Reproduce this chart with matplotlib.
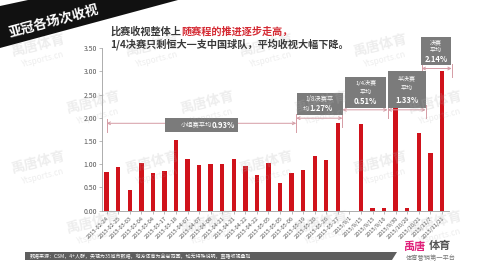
import numpy as np
import matplotlib
matplotlib.use('Agg')
import matplotlib.pyplot as plt
from matplotlib.patches import Rectangle, Polygon

plt.rcParams['font.family'] = ['Noto Sans CJK SC', 'DejaVu Sans']

dates = ['2015-02-24', '2015-02-25', '2015-03-03', '2015-03-04', '2015-03-04',
         '2015-03-17', '2015-03-18', '2015-04-07', '2015-04-07', '2015-04-08',
         '2015-04-21', '2015-04-21', '2015-04-22', '2015-04-22', '2015-05-05',
         '2015-05-05', '2015-05-06', '2015-05-19', '2015-05-20', '2015-05-26',
         '2015-05-27', '2015/9/1', '2015/9/15', '2015/9/15', '2015/9/16',
         '2015/9/30', '2015/10/20', '2015/10/21', '2015/11/7', '2015/11/21']
ratings = [0.84, 0.94, 0.44, 1.02, 0.81, 0.85, 1.52, 1.12, 0.98, 1.00,
           1.00, 1.11, 0.97, 0.77, 1.03, 0.60, 0.80,
           0.88, 1.17, 1.10, 1.88,
           0.00, 1.86, 0.06, 0.05,
           2.20, 0.06, 1.68,
           1.25, 3.01]
yticks = [0, 0.5, 1.0, 1.5, 2.0, 2.5, 3.0, 3.5]

# stage labels / averages
stage_lines = [['小组赛平均'], ['1/8决赛平', '均'], ['1/4决赛', '平均'],
               ['半决赛', '平均'], ['决赛', '平均']]
stage_avg = ['0.93%', '1.27%', '0.51%', '1.33%', '2.14%']

RED = '#d0121b'
GREY_BOX = '#7b7b7b'
ARROW = '#d59ca5'

fig = plt.figure(figsize=(4.8, 2.7), dpi=100)
fig.patch.set_facecolor('white')

def px(x, y):
    return x / 480, 1 - y / 270

ax = fig.add_axes([0.2125, 0.22, 0.7225, 0.602])
x = np.arange(len(dates))
ax.bar(x, ratings, width=0.38, color=RED, zorder=3)
ax.set_xlim(-0.4, 29.6)
ax.set_ylim(0, 3.5)
ax.set_yticks(yticks)
ax.set_yticklabels(['%.2f' % v for v in yticks], fontsize=5, color='#555555')
ax.set_xticks(x)
ax.set_xticklabels(dates, rotation=45, ha='right', rotation_mode='anchor',
                   fontsize=4.1, color='#555555')
for s in ['top', 'right']:
    ax.spines[s].set_visible(False)
for s in ['left', 'bottom']:
    ax.spines[s].set_color('#a0a0a0')
    ax.spines[s].set_linewidth(0.6)
ax.tick_params(axis='both', length=2, width=0.5, color='#a0a0a0', pad=1.5)
ax.set_facecolor('none')

# stage brackets and boxes (layout)
br_left = [0.0, 16.4, 20.4, 24.3, 27.25]
br_right = [16.4, 20.4, 24.3, 27.6, 29.85]
line_y = [1.88, 1.99, 2.17, 2.17, 3.06]
box_cx = [8.2, 18.43, 22.4, 25.95, 28.5]
box_cy = [1.84, 2.30, 2.54, 2.61, 3.44]
box_w = [6.3, 4.0, 3.6, 3.3, 2.6]
box_h = [0.30, 0.47, 0.67, 0.80, 0.61]

for i in range(len(stage_avg)):
    l, r, ly = br_left[i], br_right[i], line_y[i]
    ax.annotate('', xy=(l, ly), xytext=(r, ly), annotation_clip=False,
                arrowprops=dict(arrowstyle='<->', color=ARROW, lw=0.7,
                                shrinkA=0, shrinkB=0, mutation_scale=5), zorder=4)
    for xx in (l, r):
        ax.plot([xx, xx], [ly - 0.18, ly + 0.1], color=ARROW, lw=0.7,
                clip_on=False, zorder=4)
    ax.add_patch(Rectangle((box_cx[i] - box_w[i] / 2, box_cy[i] - box_h[i] / 2),
                           box_w[i], box_h[i], facecolor=GREY_BOX, edgecolor='none',
                           clip_on=False, zorder=5))
    lines = stage_lines[i]
    cx, cy, h = box_cx[i], box_cy[i], box_h[i]
    if i == 0:
        ax.text(cx + 0.9, cy, lines[0], ha='right', va='center', color='white',
                fontsize=4.5, zorder=6)
        ax.text(cx + 0.9, cy, stage_avg[i], ha='left', va='center', color='white',
                fontsize=5.5, fontweight='bold', zorder=6)
    elif i == 1:
        ax.text(cx, cy + h * 0.22, lines[0], ha='center', va='center', color='white',
                fontsize=4.5, zorder=6)
        ax.text(cx - 0.9, cy - h * 0.22, lines[1], ha='right', va='center',
                color='white', fontsize=4.5, zorder=6)
        ax.text(cx - 0.9, cy - h * 0.22, stage_avg[i], ha='left', va='center',
                color='white', fontsize=5.5, fontweight='bold', zorder=6)
    else:
        ax.text(cx, cy + h * 0.30, lines[0], ha='center', va='center', color='white',
                fontsize=4.3, zorder=6, clip_on=False)
        ax.text(cx, cy + h * 0.02, lines[1], ha='center', va='center', color='white',
                fontsize=4.3, zorder=6, clip_on=False)
        ax.text(cx, cy - h * 0.29, stage_avg[i], ha='center', va='center',
                color='white', fontsize=5.5, fontweight='bold', zorder=6,
                clip_on=False)

# watermarks
for row, yy in enumerate([45, 102, 162, 222]):
    off = 0 if row % 2 == 0 else 55
    for xx in [38, 152, 266, 380]:
        wx, wy = px(xx + off, yy)
        fig.text(wx, wy, '禹唐体育', rotation=14, fontsize=10, fontweight='bold',
                 color='#b0b0b0', alpha=0.22, ha='center', va='center', zorder=10)
        wx2, wy2 = px(xx + off + 5, yy + 14)
        fig.text(wx2, wy2, 'Ytsports.cn', rotation=14, fontsize=6,
                 color='#b0b0b0', alpha=0.22, ha='center', va='center', zorder=10)

# title banner
banner = Polygon([px(0, 6), px(0, 48), px(178, 0), px(28, 0)], closed=True,
                 transform=fig.transFigure, facecolor='#111111', edgecolor='none',
                 zorder=11)
fig.patches.append(banner)
tx, ty = px(54, 22)
fig.text(tx, ty, '亚冠各场次收视', rotation=15, fontsize=9.5, fontweight='bold',
         color='white', ha='center', va='center', zorder=12)

# subtitle
sx, sy = px(110, 32)
t1 = fig.text(sx, sy, '比赛收视整体上', fontsize=7.3, fontweight='bold',
              color='#3a3a3a', ha='left', va='center', zorder=12)
fig.canvas.draw()
bb = t1.get_window_extent()
fig.text(bb.x1 / fig.bbox.width, sy, '随赛程的推进逐步走高，', fontsize=7.3,
         fontweight='bold', color='#d42a33', ha='left', va='center', zorder=12)
sx2, sy2 = px(110, 44)
fig.text(sx2, sy2, '1/4决赛只剩恒大一支中国球队，平均收视大幅下降。', fontsize=7.3,
         fontweight='bold', color='#3a3a3a', ha='left', va='center', zorder=12)

# footer bar
footer = Polygon([px(25, 252), px(25, 260), px(392, 260), px(397, 252)], closed=True,
                 transform=fig.transFigure, facecolor='#5e5e5e', edgecolor='none',
                 zorder=11)
fig.patches.append(footer)
fx, fy = px(30, 256)
fig.text(fx, fy, '数据来源：CSM，4+人群，央视为35城市数据，地方体育为全省范围，如无特殊说明，直播收视叠加',
         fontsize=3.6, color='white', ha='left', va='center', zorder=12)

# logo
lx, ly = px(404, 246)
fig.text(lx, ly, '禹唐', fontsize=8, fontweight='bold', fontstyle='italic',
         color='#e0207a', ha='left', va='center', zorder=12)
lx2, _ = px(429, 246)
fig.text(lx2, ly, '体育', fontsize=8, fontweight='bold', color='#555555',
         ha='left', va='center', zorder=12)
gx, gy = px(406, 258)
fig.text(gx, gy, '体育营销第一平台', fontsize=4.5, color='#777777',
         ha='left', va='center', zorder=12)

fig.savefig('out.png', dpi=100)
